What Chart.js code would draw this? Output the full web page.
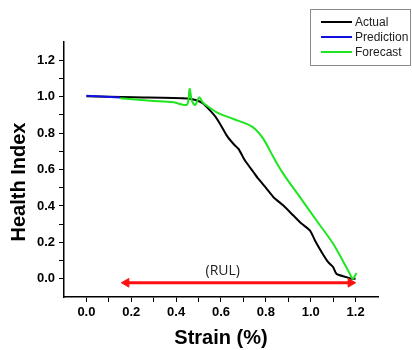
<!DOCTYPE html>
<html>
<head>
<meta charset="utf-8">
<script src="https://cdn.jsdelivr.net/npm/chart.js@4.4.1/dist/chart.umd.min.js"></script>
<style>
  html, body { margin: 0; padding: 0; background: #fff; }
  #wrap { width: 412px; height: 350px; }
</style>
</head>
<body>
<div id="wrap"><canvas id="hiChart" width="412" height="350"></canvas></div>
<script>
// Curvas de índice de salud frente a deformación
const strainActual = [0, 0.21, 0.45, 0.49, 0.52, 0.552, 0.575, 0.596, 0.626, 0.656, 0.678, 0.707, 0.745, 0.767, 0.804, 0.834, 0.878, 0.923, 0.96, 0.997, 1.019, 1.049, 1.078, 1.1, 1.115, 1.16, 1.182, 1.2];
const healthActual = [1.002, 0.996, 0.99, 0.98, 0.963, 0.923, 0.89, 0.85, 0.786, 0.74, 0.713, 0.649, 0.585, 0.548, 0.494, 0.448, 0.402, 0.347, 0.302, 0.265, 0.21, 0.146, 0.091, 0.064, 0.027, 0.009, 0, 0];

const strainPrediction = [0, 0.15];
const healthPrediction = [1.005, 0.995];

const strainForecast = [0.151, 0.285, 0.389, 0.448, 0.46, 0.47, 0.485, 0.503, 0.518, 0.537, 0.581, 0.656, 0.715, 0.752, 0.789, 0.834, 0.878, 0.952, 1.026, 1.1, 1.175, 1.187, 1.204];
const healthForecast = [0.991, 0.978, 0.969, 0.956, 1.042, 0.978, 0.954, 0.996, 0.969, 0.95, 0.914, 0.877, 0.85, 0.823, 0.768, 0.667, 0.576, 0.448, 0.32, 0.192, 0.027, 0, 0.031];

// Flecha RUL (extremos) y su etiqueta
const rulStrain = [0.178, 1.178];
const rulLevel = -0.022;
const rulLabel = "(RUL)";
const rulLabelPos = { x: 0.608, y: 0.042 };

const xTickLabels = ["0.0", "0.2", "0.4", "0.6", "0.8", "1.0", "1.2"];
const yTickLabels = ["0.0", "0.2", "0.4", "0.6", "0.8", "1.0", "1.2"];

const toPoints = (xs, ys) => xs.map((x, i) => ({ x: x, y: ys[i] }));

const fontFam = 'Arial, "Liberation Sans", sans-serif';

// Etiqueta solo en los valores pares (0.0, 0.2, ...), marcas menores sin texto
function tickText(list) {
  return function (value) {
    const k = Math.round(value * 10);
    if (k < 0 || k % 2 !== 0) return '';
    return list[k / 2] !== undefined ? list[k / 2] : '';
  };
}
function tickMarkColor(ctx) {
  const v = Math.round(ctx.tick.value * 10);
  return (v < 0 || v > 12) ? 'rgba(0,0,0,0)' : '#000';
}

// Título del eje Y, leyenda en recuadro y texto "(RUL)"
const extrasPlugin = {
  id: 'extras',
  afterDraw(chart) {
    const ctx = chart.ctx;
    const xs = chart.scales.x, ys = chart.scales.y;

    ctx.save();
    ctx.translate(19, 182);
    ctx.rotate(-Math.PI / 2);
    ctx.font = 'bold 20px ' + fontFam;
    ctx.fillStyle = '#000';
    ctx.textAlign = 'center';
    ctx.textBaseline = 'middle';
    ctx.fillText('Health Index', 0, 0);
    ctx.restore();

    ctx.save();
    ctx.font = '14px "Open Sans", sans-serif';
    ctx.fillStyle = '#222';
    ctx.textAlign = 'center';
    ctx.textBaseline = 'middle';
    ctx.fillText(rulLabel, xs.getPixelForValue(rulLabelPos.x), ys.getPixelForValue(rulLabelPos.y));

    // recuadro de la leyenda
    ctx.strokeStyle = '#8a8a8a';
    ctx.lineWidth = 1;
    ctx.strokeRect(310.5, 9.5, 100, 56);
    ctx.font = '12px ' + fontFam;
    ctx.textAlign = 'left';
    chart.data.datasets.slice(0, 3).forEach((ds, i) => {
      const y = 22 + i * 15;
      ctx.strokeStyle = ds.borderColor;
      ctx.lineWidth = 2;
      ctx.beginPath();
      ctx.moveTo(321, y);
      ctx.lineTo(352, y);
      ctx.stroke();
      ctx.fillStyle = '#222';
      ctx.fillText(ds.label, 355, y + 1);
    });
    ctx.restore();
  }
};

new Chart(document.getElementById('hiChart').getContext('2d'), {
  type: 'line',
  data: {
    datasets: [
      {
        label: 'Actual',
        data: toPoints(strainActual, healthActual),
        borderColor: '#000000',
        borderWidth: 2,
        pointRadius: 0,
        tension: 0.2,
        order: 2
      },
      {
        label: 'Prediction',
        data: toPoints(strainPrediction, healthPrediction),
        borderColor: '#1010e0',
        borderWidth: 2,
        pointRadius: 0,
        order: 1
      },
      {
        label: 'Forecast',
        data: toPoints(strainForecast, healthForecast),
        borderColor: '#1ee61e',
        borderWidth: 2,
        pointRadius: 0,
        tension: 0.3,
        order: 1
      },
      {
        label: 'RUL',
        data: rulStrain.map(x => ({ x: x, y: rulLevel })),
        borderColor: '#ff1010',
        backgroundColor: '#ff1010',
        borderWidth: 3,
        pointStyle: 'triangle',
        pointRadius: 5,
        pointRotation: [-90, 90],
        pointBorderWidth: 1,
        order: 0
      }
    ]
  },
  options: {
    responsive: false,
    animation: false,
    layout: { padding: { top: 42, right: 34, left: 0, bottom: 0 } },
    plugins: {
      legend: { display: false },
      tooltip: { enabled: false }
    },
    scales: {
      x: {
        type: 'linear',
        min: -0.1,
        max: 1.3,
        afterFit(scale) { scale.height = 53; },
        border: { display: true, color: '#000', width: 1.5 },
        grid: {
          drawOnChartArea: false,
          drawTicks: true,
          tickLength: 5,
          tickColor: tickMarkColor
        },
        ticks: {
          stepSize: 0.1,
          autoSkip: false,
          maxRotation: 0,
          padding: 3,
          color: '#000',
          font: { family: fontFam, size: 13, weight: 'bold' },
          callback: tickText(xTickLabels)
        },
        title: {
          display: true,
          text: 'Strain (%)',
          color: '#000',
          padding: { top: 0, bottom: 0 },
          font: { family: fontFam, size: 20, weight: 'bold', lineHeight: 1.2 }
        }
      },
      y: {
        min: -0.1,
        max: 1.3,
        afterFit(scale) { scale.width = 64; },
        border: { display: true, color: '#000', width: 1.5 },
        grid: {
          drawOnChartArea: false,
          drawTicks: true,
          tickLength: 5,
          tickColor: tickMarkColor
        },
        ticks: {
          stepSize: 0.1,
          autoSkip: false,
          padding: 4,
          color: '#000',
          font: { family: fontFam, size: 13, weight: 'bold' },
          callback: tickText(yTickLabels)
        }
      }
    }
  },
  plugins: [extrasPlugin]
});
</script>
</body>
</html>
